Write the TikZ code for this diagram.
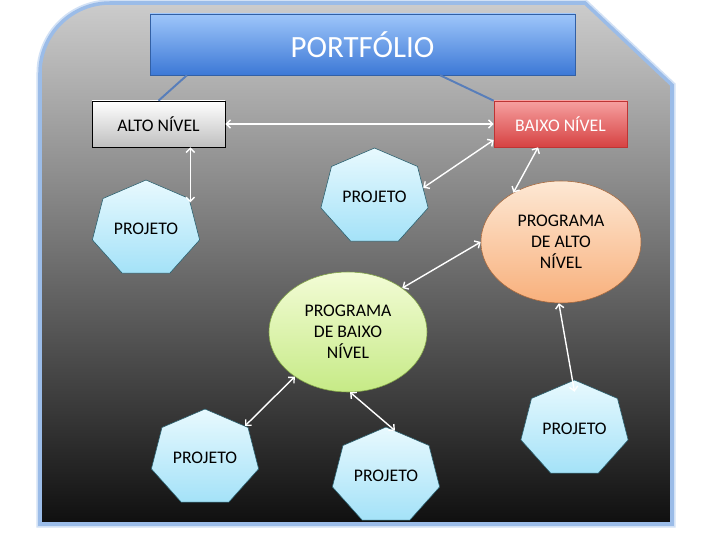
\documentclass[tikz,border=0pt]{standalone}
\usepackage{fontspec}
\setmainfont{Carlito}
\usepackage{graphicx}
\usepackage{tikz}
\usetikzlibrary{shapes.geometric}
\usetikzlibrary{arrows.meta, positioning}

\definecolor{rim}{RGB}{155,188,232}
\definecolor{titletop}{RGB}{158,198,250}
\definecolor{titlebot}{RGB}{60,120,214}
\definecolor{titleline}{RGB}{50,96,165}
\definecolor{redtop}{RGB}{246,160,160}
\definecolor{redbot}{RGB}{214,66,66}
\definecolor{redline}{RGB}{190,52,52}
\definecolor{heptop}{RGB}{232,249,254}
\definecolor{hepbot}{RGB}{164,226,248}
\definecolor{hepline}{RGB}{40,95,110}
\definecolor{orgtop}{RGB}{253,232,212}
\definecolor{orgbot}{RGB}{248,176,124}
\definecolor{orgline}{RGB}{170,105,60}
\definecolor{grntop}{RGB}{243,252,214}
\definecolor{grnbot}{RGB}{198,234,134}
\definecolor{grnline}{RGB}{130,165,70}
\definecolor{tieblue}{RGB}{88,126,186}

\begin{document}
\begin{tikzpicture}[txt/.style={font=\fontsize{12.6}{15}\selectfont},
	proj/.style={txt,draw=hepline,regular polygon,regular polygon sides=7,
		minimum size=2.75cm,inner sep=0pt,top color=heptop,bottom color=hepbot,
		yscale=0.89,transform shape},
	lvl/.style={txt,draw,minimum width=3.325cm,minimum height=1.15cm},
	prog/.style={txt,ellipse,align=center,inner sep=0pt},
	dbl/.style={{Straight Barb[length=3pt,width=6pt]}-{Straight Barb[length=3pt,width=6pt]},
		white,line width=1pt},
	tie/.style={tieblue,line width=1.4pt}]
	\useasboundingbox (0,0) rectangle (18,13.5);
	\fill[white] (0,0) rectangle (18,13.5);
	\path[draw=rim,line width=2.5pt,top color=black!20,bottom color=black!94,
		preaction={draw=rim!45,line width=5pt}]
		(16.8,0.4) -- (1,0.4) -- (1,11.675) arc[start angle=180,end angle=90,radius=1.75]
		-- (14.625,13.425) -- (16.8,11.375) -- cycle;
	\node[draw=titleline,top color=titletop,bottom color=titlebot,minimum width=10.625cm,
		minimum height=1.525cm,text=white,font=\fontsize{22}{26}\selectfont] (port) at (9.0625,12.3875) {PORTFÓLIO};
	\node[lvl,top color=white,bottom color=black!25] (alto) at (3.9625,10.4) {ALTO NÍVEL};
	\node[lvl,draw=redline,top color=redtop,bottom color=redbot,text=white] (baixo) at (14.0125,10.4) {BAIXO NÍVEL};
	\node[proj] (pj1) at (3.65,7.775) {\scalebox{1}[1.124]{PROJETO}};
	\node[proj] (pj2) at (9.3625,8.575) {\scalebox{1}[1.124]{PROJETO}};
	\node[proj] (pj3) at (5.125,2.05) {\scalebox{1}[1.124]{PROJETO}};
	\node[proj] (pj4) at (9.65,1.6) {\scalebox{1}[1.124]{PROJETO}};
	\node[proj] (pj5) at (14.3625,2.775) {\scalebox{1}[1.124]{PROJETO}};
	\node[prog,draw=orgline,top color=orgtop,bottom color=orgbot,minimum width=4cm,
		minimum height=3.05cm] (proga) at (14.025,7.45) {PROGRAMA\\DE ALTO\\NÍVEL};
	\node[prog,draw=grnline,top color=grntop,bottom color=grnbot,minimum width=3.95cm,
		minimum height=3cm] (progb) at (8.7,5.2) {PROGRAMA\\DE BAIXO\\NÍVEL};
	\draw[tie] ([xshift=-4.39cm]port.south) -- (alto.north);
	\draw[tie] ([xshift=1.94cm]port.south) -- (baixo.north west);
	\draw[dbl] (alto.east) -- (baixo.west);
	\draw[dbl] (alto.south -| pj1.34) -- (pj1.34);
	\draw[dbl] ([yshift=-0.4cm]baixo.west) -- (pj2.12);
	\draw[dbl] ([xshift=-0.56cm]baixo.south) -- (proga.134);
	\draw[dbl] (proga.west) -- (progb.39);
	\draw[dbl] (progb.220) -- (pj3.42);
	\draw[dbl] (progb.-88) -- (pj4.80);
	\draw[dbl] (proga.-92) -- ([yshift=-0.3cm]pj5.north);
\end{tikzpicture}
\end{document}
